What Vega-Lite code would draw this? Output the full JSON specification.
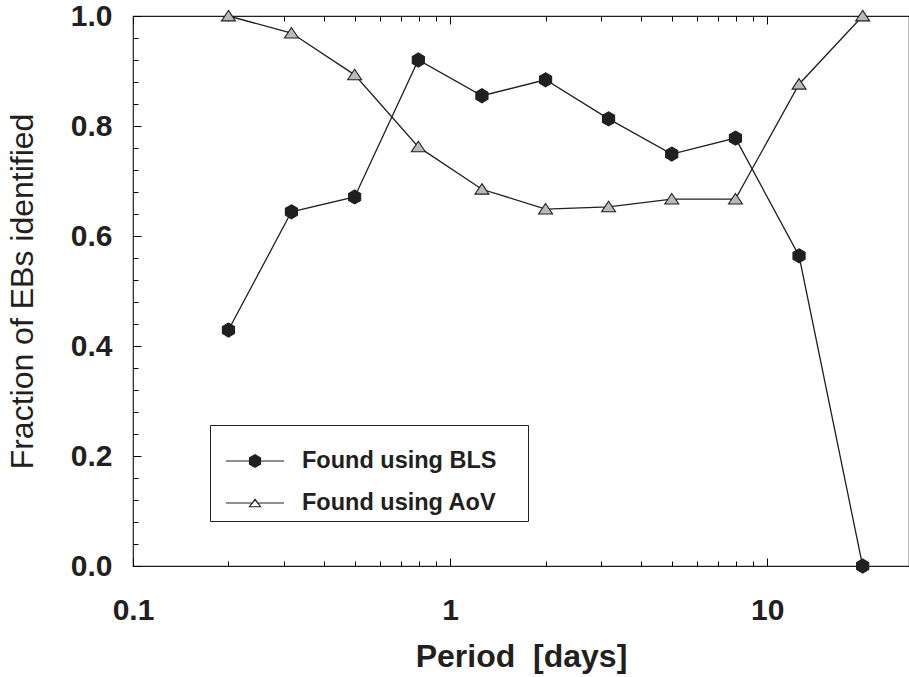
{
  "$schema": "https://vega.github.io/schema/vega-lite/v6.json",
  "width": 776,
  "height": 550,
  "autosize": {"type": "none"},
  "padding": {"left": 133, "top": 16, "right": 0, "bottom": 111},
  "background": "white",
  "config": {
    "view": {"stroke": "#231f20", "strokeWidth": 1.2},
    "font": "Liberation Sans",
    "axis": {"domain": false, "labelColor": "#231f20", "titleColor": "#231f20"}
  },
  "data": {"values": [
    {"period": 0.2, "fraction": 0.429, "series": "Found using BLS"},
    {"period": 0.316, "fraction": 0.644, "series": "Found using BLS"},
    {"period": 0.5, "fraction": 0.671, "series": "Found using BLS"},
    {"period": 0.794, "fraction": 0.92, "series": "Found using BLS"},
    {"period": 1.26, "fraction": 0.855, "series": "Found using BLS"},
    {"period": 2.0, "fraction": 0.884, "series": "Found using BLS"},
    {"period": 3.16, "fraction": 0.813, "series": "Found using BLS"},
    {"period": 5.0, "fraction": 0.749, "series": "Found using BLS"},
    {"period": 7.94, "fraction": 0.778, "series": "Found using BLS"},
    {"period": 12.6, "fraction": 0.564, "series": "Found using BLS"},
    {"period": 20.0, "fraction": 0.0, "series": "Found using BLS"},
    {"period": 0.2, "fraction": 1.0, "series": "Found using AoV"},
    {"period": 0.316, "fraction": 0.969, "series": "Found using AoV"},
    {"period": 0.5, "fraction": 0.893, "series": "Found using AoV"},
    {"period": 0.794, "fraction": 0.762, "series": "Found using AoV"},
    {"period": 1.26, "fraction": 0.685, "series": "Found using AoV"},
    {"period": 2.0, "fraction": 0.649, "series": "Found using AoV"},
    {"period": 3.16, "fraction": 0.653, "series": "Found using AoV"},
    {"period": 5.0, "fraction": 0.667, "series": "Found using AoV"},
    {"period": 7.94, "fraction": 0.667, "series": "Found using AoV"},
    {"period": 12.6, "fraction": 0.876, "series": "Found using AoV"},
    {"period": 20.0, "fraction": 1.0, "series": "Found using AoV"}
  ]},
  "resolve": {"axis": {"x": "independent", "y": "independent"}, "scale": {"shape": "independent"}},
  "layer": [
    {
      "mark": {"type": "line", "stroke": "#231f20", "strokeWidth": 1.3, "clip": false},
      "encoding": {
        "x": {"field": "period", "type": "quantitative",
          "scale": {"type": "log", "domain": [0.1, 28], "nice": false},
          "axis": {"orient": "bottom", "values": [0.1, 1, 10], "gridOpacity": 0, "tickSize": -8, "tickColor": "black",
            "labelExpr": "format(datum.value, '~g')",
            "labelFontSize": 30, "labelFontWeight": "bold", "labelPadding": 37, "labelFlush": false, "labelOverlap": false,
            "title": "Period\u00a0 [days]", "titleFontSize": 32, "titleFontWeight": "bold", "titlePadding": 16}},
        "y": {"field": "fraction", "type": "quantitative",
          "scale": {"domain": [0, 1], "nice": false},
          "axis": {"orient": "left", "values": [0, 0.2, 0.4, 0.6, 0.8, 1.0], "gridOpacity": 0, "tickSize": -8, "tickColor": "black",
            "format": ".1f",
            "labelFontSize": 30, "labelFontWeight": "bold", "labelPadding": 29, "labelFlush": false, "labelOverlap": false,
            "title": "Fraction of EBs identified", "titleFontSize": 32, "titleFontWeight": "normal", "titlePadding": 31}},
        "detail": {"field": "series"}
      }
    },
    {
      "transform": [{"filter": "datum.period < 0"}],
      "mark": {"type": "point", "opacity": 0},
      "encoding": {
        "x": {"field": "period", "type": "quantitative",
          "axis": {"orient": "bottom", "values": [0.2, 0.3, 0.4, 0.5, 0.6, 0.7, 0.8, 0.9, 2, 3, 4, 5, 6, 7, 8, 9], "gridOpacity": 0, "tickSize": -5, "tickColor": "black", "labels": false, "title": null}},
        "y": {"field": "fraction", "type": "quantitative",
          "axis": {"orient": "left", "values": [0.04, 0.08, 0.12, 0.16, 0.24, 0.28, 0.32, 0.36, 0.44, 0.48, 0.52, 0.56, 0.64, 0.68, 0.72, 0.76, 0.84, 0.88, 0.92, 0.96], "gridOpacity": 0, "tickSize": -5, "tickColor": "black", "labels": false, "title": null}}
      }
    },
    {
      "transform": [{"filter": "datum.period < 0"}],
      "mark": {"type": "point", "opacity": 0},
      "encoding": {
        "x": {"field": "period", "type": "quantitative",
          "axis": {"orient": "top", "values": [0.2, 0.3, 0.4, 0.5, 0.6, 0.7, 0.8, 0.9, 2, 3, 4, 5, 6, 7, 8, 9], "gridOpacity": 0, "tickSize": -5, "tickColor": "black", "labels": false, "title": null}},
        "y": {"field": "fraction", "type": "quantitative", "axis": null}
      }
    },
    {
      "mark": {"type": "point", "filled": true, "stroke": "#231f20", "strokeWidth": 1.1, "size": 196, "opacity": 1, "clip": false},
      "encoding": {
        "x": {"field": "period", "type": "quantitative",
          "axis": {"orient": "top", "values": [0.1, 1, 10], "gridOpacity": 0, "tickSize": -8, "tickColor": "black", "labels": false, "title": null}},
        "y": {"field": "fraction", "type": "quantitative", "axis": null},
        "shape": {"field": "series", "type": "nominal",
          "scale": {"domain": ["Found using BLS", "Found using AoV"],
            "range": ["M0,-1L0.866,-0.5L0.866,0.5L0,1L-0.866,0.5L-0.866,-0.5Z", "M0,-0.8L1,0.7L-1,0.7Z"]},
          "legend": null},
        "fill": {"field": "series", "type": "nominal",
          "scale": {"domain": ["Found using BLS", "Found using AoV"], "range": ["#231f20", "#bdb9b9"]},
          "legend": null}
      }
    },
    {
      "transform": [{"filter": "datum.period < 0"}],
      "mark": {"type": "point", "filled": true, "color": "#231f20", "opacity": 1},
      "encoding": {
        "x": {"field": "period", "type": "quantitative", "axis": null},
        "y": {"field": "fraction", "type": "quantitative", "axis": null},
        "shape": {"field": "series", "type": "nominal",
          "scale": {"domain": ["Found using BLS", "Found using AoV"],
            "range": ["M-1,-0.02H1V0.02H-1ZM0,-0.24L0.21,-0.12L0.21,0.12L0,0.24L-0.21,0.12L-0.21,-0.12Z", "M-1,-0.02H-0.12V0.02H-1ZM0.12,-0.02H1V0.02H0.12ZM0,-0.16L0.23,0.15L-0.23,0.15ZM0,-0.08L-0.16,0.11L0.16,0.11Z"]},
          "legend": {"title": " ", "titleOrient": "right", "titlePadding": 26, "titleFontSize": 8,
            "orient": "none", "legendX": 77, "legendY": 409,
            "strokeColor": "#231f20", "fillColor": "white", "padding": 6,
            "symbolSize": 3364, "symbolOffset": 9, "symbolOpacity": 1,
            "labelFontSize": 23.5, "labelFontWeight": "bold", "labelColor": "#231f20", "labelOffset": 17, "labelLimit": 1000,
            "rowPadding": 0}}
      }
    }
  ]
}
